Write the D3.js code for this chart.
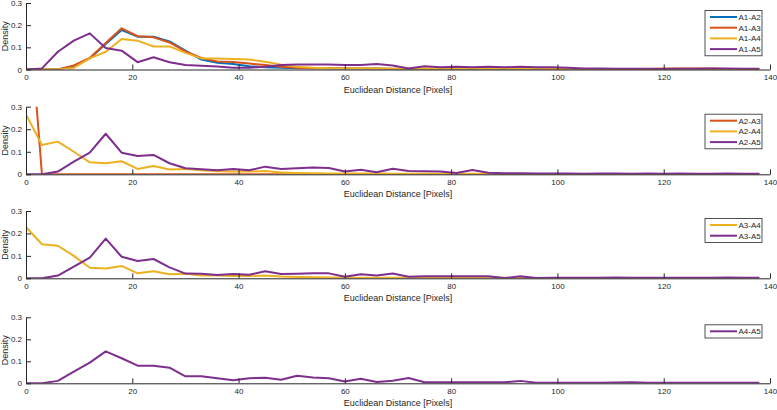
<!DOCTYPE html>
<html><head><meta charset="utf-8">
<script src="https://cdn.jsdelivr.net/npm/d3@7"></script>
<style>
html,body{margin:0;padding:0;background:#fff;}
svg{display:block;font-family:"Liberation Sans",Arial,sans-serif;}
</style></head>
<body><svg id="chart" width="777" height="410"></svg>
<script>
const distance = [0,3,6,9,12,15,18,21,24,27,30,33,36,39,42,45,48,51,54,57,60,63,66,69,72,75,78,81,84,87,90,93,96,99,102,105,108,111,114,117,120,123,126,129,132,135,138];
const xTicks = [0,20,40,60,80,100,120,140];
const yTicks = [0,0.1,0.2,0.3];
const yTickLabels = ["0","0.1","0.2","0.3"];

const a1a2 = [0,0,0,0.015,0.05,0.115,0.178,0.148,0.148,0.127,0.085,0.045,0.03,0.025,0.015,0.01,0.008,0.006,0.005,0.004,0.004,0.003,0.003,0.002,0.002,0.002,0.002,0.001,0.001,0.001,0.001,0.001,0.001,0.001,0.001,0,0,0,0,0,0,0,0,0,0,0,0];
const a1a3 = [0,0,0,0.018,0.052,0.12,0.186,0.15,0.145,0.122,0.082,0.052,0.036,0.034,0.027,0.02,0.012,0.008,0.006,0.005,0.005,0.004,0.004,0.003,0.003,0.003,0.003,0.003,0.003,0.003,0.003,0.003,0.002,0.002,0.002,0.002,0.002,0.002,0.002,0.002,0.004,0.005,0.005,0.004,0.002,0.001,0];
const a1a4 = [0,0,0,0.007,0.05,0.08,0.138,0.13,0.104,0.104,0.075,0.05,0.05,0.047,0.045,0.035,0.022,0.012,0.008,0.006,0.005,0.004,0.004,0.003,0.003,0.003,0.003,0.003,0.003,0.003,0.003,0.003,0.003,0.003,0.002,0.001,0.001,0.001,0.001,0.001,0.001,0.001,0.001,0.001,0.001,0.001,0.001];
const a1a5 = [0,0.005,0.08,0.13,0.163,0.097,0.085,0.033,0.055,0.033,0.02,0.017,0.013,0.008,0.008,0.012,0.02,0.022,0.022,0.022,0.02,0.02,0.025,0.018,0.005,0.015,0.01,0.012,0.01,0.012,0.01,0.012,0.01,0.01,0.008,0.004,0.004,0.003,0.003,0.003,0.002,0.003,0.003,0.004,0.005,0.003,0.003];
const a2a3 = [0.9,0,0,0,0,0,0,0,0,0,0,0,0,0,0,0,0,0,0,0,0,0,0,0,0,0,0,0,0,0,0,0,0,0,0,0,0,0,0,0,0,0,0,0,0,0,0];
const a2a4 = [0.266,0.13,0.145,0.1,0.053,0.049,0.058,0.024,0.037,0.021,0.024,0.018,0.014,0.012,0.012,0.015,0.008,0.006,0.005,0.004,0.003,0.003,0.003,0.002,0.002,0.002,0.002,0.002,0.002,0.002,0.002,0.001,0.001,0.001,0.001,0.001,0.001,0.001,0.001,0.001,0.001,0.001,0.001,0.001,0.001,0.001,0.001];
const a2a5 = [0,0,0.012,0.056,0.096,0.18,0.096,0.081,0.086,0.049,0.027,0.022,0.018,0.024,0.018,0.034,0.024,0.027,0.03,0.028,0.012,0.02,0.009,0.025,0.015,0.013,0.012,0.006,0.019,0.007,0.005,0.005,0.004,0.003,0.003,0.002,0.003,0.004,0.002,0.003,0.002,0.003,0.002,0.002,0.003,0.002,0.002];
const a3a4 = [0.229,0.152,0.145,0.1,0.047,0.044,0.055,0.022,0.031,0.018,0.02,0.012,0.012,0.01,0.01,0.012,0.008,0.006,0.005,0.004,0.003,0.003,0.003,0.002,0.002,0.002,0.002,0.002,0.002,0.002,0.002,0.001,0.001,0.001,0.001,0.001,0.001,0.001,0.001,0.001,0.001,0.001,0.001,0.001,0.001,0.001,0.001];
const a3a5 = [0,0,0.012,0.052,0.092,0.177,0.096,0.077,0.086,0.049,0.021,0.02,0.015,0.019,0.016,0.031,0.019,0.02,0.022,0.022,0.007,0.018,0.012,0.021,0.007,0.009,0.009,0.009,0.009,0.009,0.001,0.009,0.001,0.003,0.002,0.002,0.002,0.004,0.002,0.002,0.002,0.002,0.002,0.002,0.004,0.002,0.002];
const a4a5 = [0,0,0.011,0.053,0.094,0.145,0.114,0.08,0.08,0.071,0.032,0.032,0.023,0.014,0.023,0.025,0.016,0.034,0.026,0.023,0.008,0.021,0.006,0.012,0.024,0.005,0.005,0.005,0.005,0.005,0.005,0.011,0.003,0.003,0.002,0.002,0.003,0.004,0.005,0.003,0.003,0.002,0.003,0.002,0.002,0.002,0.002];

const colors = {blue:"#0072BD", orange:"#D95319", yellow:"#EDB120", purple:"#7E2F8E"};

const panels = [
  {top:3, bottom:69.5, series:[["A1-A2",a1a2,"blue"],["A1-A3",a1a3,"orange"],["A1-A4",a1a4,"yellow"],["A1-A5",a1a5,"purple"]]},
  {top:106.7, bottom:174.3, series:[["A2-A3",a2a3,"orange"],["A2-A4",a2a4,"yellow"],["A2-A5",a2a5,"purple"]]},
  {top:211, bottom:278.3, series:[["A3-A4",a3a4,"yellow"],["A3-A5",a3a5,"purple"]]},
  {top:317.3, bottom:383.3, series:[["A4-A5",a4a5,"purple"]]}
];

const svg = d3.select("#chart");
const axisColor = "#262626";
const x = d3.scaleLinear().domain([0,140]).range([26,770]);

panels.forEach((p, pi) => {
  const y = d3.scaleLinear().domain([0,0.3]).range([p.bottom, p.top]);
  const g = svg.append("g");
  const clipId = "clip" + pi;
  svg.append("clipPath").attr("id", clipId).append("rect")
    .attr("x", x(0)).attr("y", p.top).attr("width", x(140)-x(0)).attr("height", p.bottom - p.top);

  const line = d3.line().x((d,i) => x(distance[i])).y(d => y(d));
  p.series.forEach(s => {
    g.append("path").datum(s[1])
      .attr("clip-path", `url(#${clipId})`)
      .attr("d", line)
      .attr("fill","none")
      .attr("stroke", colors[s[2]])
      .attr("stroke-width", 2)
      .attr("stroke-linejoin","round");
  });

  const xa = d3.axisBottom(x).tickValues(xTicks).tickSize(-5).tickPadding(5).tickSizeOuter(0)
    .tickFormat(d3.format("d"));
  const gx = g.append("g").attr("transform", `translate(0,${p.bottom})`).call(xa);
  const ya = d3.axisLeft(y).tickValues(yTicks).tickSize(-5).tickPadding(4).tickSizeOuter(0)
    .tickFormat((d,i) => yTickLabels[i]);
  const gy = g.append("g").attr("transform", `translate(${x(0)},0)`).call(ya);
  [gx, gy].forEach(a => {
    a.select(".domain").attr("stroke", axisColor).attr("stroke-width", 1);
    a.selectAll(".tick line").attr("stroke", axisColor).attr("stroke-width", 1);
    a.selectAll(".tick text").attr("fill", axisColor).style("font-size","8px")
      .style("font-family","'Liberation Sans',Arial,sans-serif");
  });

  g.append("text").attr("x", (x(0)+x(140))/2).attr("y", p.bottom + 23)
    .attr("text-anchor","middle").attr("fill", axisColor).style("font-size","9px")
    .text("Euclidean Distance [Pixels]");
  g.append("text").attr("transform", `translate(8,${(p.top+p.bottom)/2}) rotate(-90)`)
    .attr("text-anchor","middle").attr("fill", axisColor).style("font-size","9px")
    .text("Density");

  const n = p.series.length;
  const rowH = 10.7;
  const lx = 705, lw = 57, ly = p.top + 7.5;
  const lh = n * rowH + 2.5;
  const lg = g.append("g");
  lg.append("rect").attr("x", lx).attr("y", ly).attr("width", lw).attr("height", lh)
    .attr("fill","#fff").attr("stroke", axisColor).attr("stroke-width", 0.8);
  p.series.forEach((s, i) => {
    const cy = ly + 6.5 + i * rowH;
    lg.append("line").attr("x1", 710).attr("x2", 737).attr("y1", cy).attr("y2", cy)
      .attr("stroke", colors[s[2]]).attr("stroke-width", 2);
    lg.append("text").attr("x", 738.5).attr("y", cy).attr("dy","0.35em")
      .attr("fill", axisColor).style("font-size","8px").text(s[0]);
  });
});
</script></body></html>
